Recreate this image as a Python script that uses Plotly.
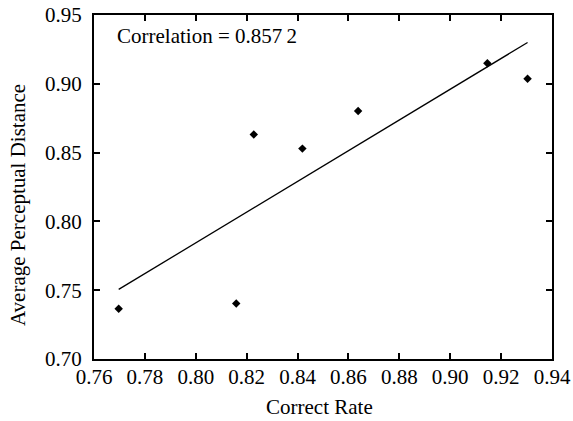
import numpy as np
import plotly.graph_objects as go

correct_rate = [0.7697, 0.8159, 0.8228, 0.8419, 0.8638, 0.9146, 0.9304]
perceptual_distance = [0.7365, 0.7404, 0.8631, 0.8529, 0.8803, 0.9150, 0.9036]
x_ticks = [0.76, 0.78, 0.80, 0.82, 0.84, 0.86, 0.88, 0.90, 0.92, 0.94]
y_ticks = [0.70, 0.75, 0.80, 0.85, 0.90, 0.95]
annotation_text = "Correlation = 0.857\u20092"
x_title = "Correct Rate"
y_title = "Average Perceptual Distance"

slope, intercept = np.polyfit(correct_rate, perceptual_distance, 1)
fit_x = [min(correct_rate), max(correct_rate)]
fit_y = [slope * v + intercept for v in fit_x]

FONT = "Liberation Serif"
FS = 21

fig = go.Figure()
fig.add_trace(go.Scatter(x=fit_x, y=fit_y, mode="lines",
                         line=dict(color="black", width=1.3), showlegend=False))
fig.add_trace(go.Scatter(x=correct_rate, y=perceptual_distance, mode="markers",
                         marker=dict(symbol="diamond", size=6.5, color="black"),
                         showlegend=False))

axis_common = dict(showline=True, linecolor="black", linewidth=2, mirror="ticks",
                   ticks="inside", ticklen=6, tickwidth=1.5, tickcolor="black",
                   showgrid=False, zeroline=False, automargin=False,
                   tickfont=dict(family=FONT, size=FS, color="black"))

fig.update_xaxes(range=[0.76, 0.94], tickvals=x_ticks,
                 ticktext=[f"{v:.2f}" for v in x_ticks],
                 ticklabelstandoff=-2, **axis_common)
fig.update_yaxes(range=[0.70, 0.95], tickvals=y_ticks,
                 ticktext=[f"{v:.2f}" for v in y_ticks],
                 ticklabelstandoff=6, **axis_common)

fig.add_annotation(x=0.7684, y=0.935, xref="x", yref="y", text=annotation_text,
                   showarrow=False, xanchor="left", yanchor="middle",
                   font=dict(family=FONT, size=FS, color="black"))
fig.add_annotation(x=0.493, y=0, xref="paper", yref="paper", text=x_title,
                   showarrow=False, xanchor="center", yanchor="middle", yshift=-47.5,
                   font=dict(family=FONT, size=FS, color="black"))
fig.add_annotation(x=0, y=0.5, xref="paper", yref="paper", text=y_title,
                   showarrow=False, xanchor="center", yanchor="middle", xshift=-76,
                   yshift=-18, textangle=-90, font=dict(family=FONT, size=FS, color="black"))

fig.update_layout(width=573, height=421, margin=dict(l=94, r=21, t=15, b=62),
                  paper_bgcolor="white", plot_bgcolor="white")

fig.write_html("out.html")
